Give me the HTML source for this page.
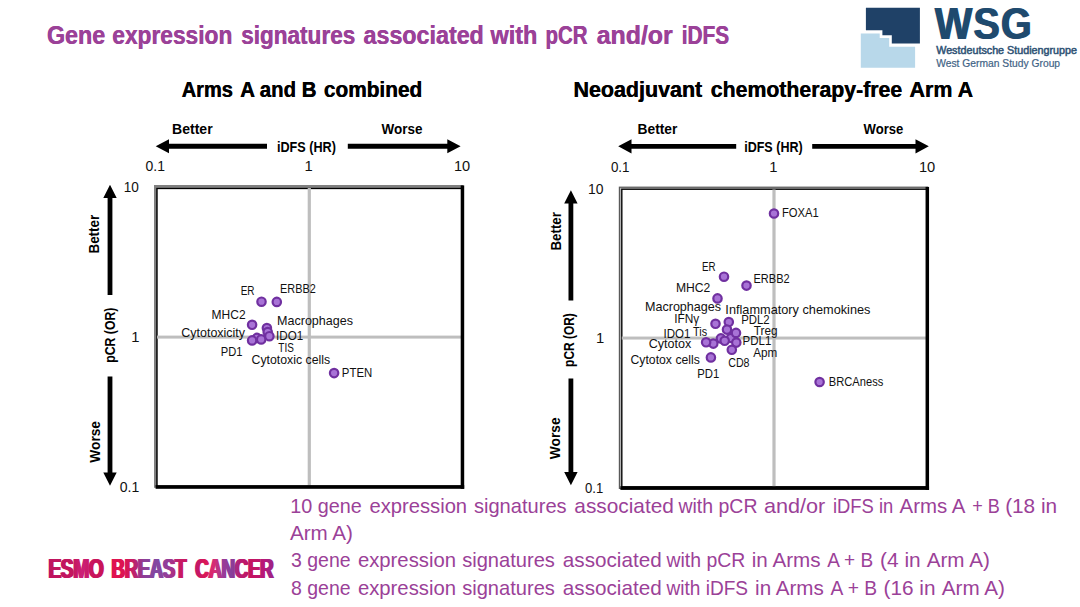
<!DOCTYPE html>
<html><head><meta charset="utf-8"><title>Gene expression signatures</title>
<style>
html,body{margin:0;padding:0;background:#fff;}
body{width:1080px;height:607px;overflow:hidden;}
svg{display:block;font-family:"Liberation Sans",sans-serif;}
</style></head><body>
<svg width="1080" height="607" viewBox="0 0 1080 607">
<rect width="1080" height="607" fill="#fff"/>
<text id="b1" x="46.72" y="44.2" font-size="26.4" font-weight="700" fill="#9B4198" textLength="58.28" lengthAdjust="spacingAndGlyphs">Gene</text><use href="#b1" x="0.50"/>
<text id="b2" x="112.04" y="44.2" font-size="26.4" font-weight="700" fill="#9B4198" textLength="120.03" lengthAdjust="spacingAndGlyphs">expression</text><use href="#b2" x="0.50"/>
<text id="b3" x="241.00" y="44.2" font-size="26.4" font-weight="700" fill="#9B4198" textLength="113.98" lengthAdjust="spacingAndGlyphs">signatures</text><use href="#b3" x="0.50"/>
<text id="b4" x="363.30" y="44.2" font-size="26.4" font-weight="700" fill="#9B4198" textLength="120.29" lengthAdjust="spacingAndGlyphs">associated</text><use href="#b4" x="0.50"/>
<text id="b5" x="490.29" y="44.2" font-size="26.4" font-weight="700" fill="#9B4198" textLength="46.91" lengthAdjust="spacingAndGlyphs">with</text><use href="#b5" x="0.50"/>
<text id="b6" x="545.33" y="44.2" font-size="26.4" font-weight="700" fill="#9B4198" textLength="42.02" lengthAdjust="spacingAndGlyphs">pCR</text><use href="#b6" x="0.50"/>
<text id="b7" x="596.40" y="44.2" font-size="26.4" font-weight="700" fill="#9B4198" textLength="76.16" lengthAdjust="spacingAndGlyphs">and/or</text><use href="#b7" x="0.50"/>
<text id="b8" x="681.41" y="44.2" font-size="26.4" font-weight="700" fill="#9B4198" textLength="47.47" lengthAdjust="spacingAndGlyphs">iDFS</text><use href="#b8" x="0.50"/>
<path d="M865.9,7.7 H919.9 V43.5 H891.8 V35.2 H882.4 V30.3 H865.9 Z" fill="#1F4167"/>
<path d="M860.8,33.4 H879.7 V38.1 H889.2 V46.7 H915.1 V67.7 H860.8 Z" fill="#B8D8EA"/>
<text id="b9" x="934.30" y="39.0" font-size="44.8" font-weight="700" fill="#1F4A6E" textLength="97.89" lengthAdjust="spacingAndGlyphs" letter-spacing="1.2">WSG</text><use href="#b9" x="1.30"/>
<text x="936.20" y="54.3" font-size="10.6" font-weight="400" fill="#2F5375" textLength="140.79" lengthAdjust="spacingAndGlyphs" stroke="#2F5375" stroke-width="0.5">Westdeutsche Studiengruppe</text>
<text x="936.20" y="67.4" font-size="10.6" font-weight="400" fill="#3F6385" textLength="123.89" lengthAdjust="spacingAndGlyphs" stroke="#3F6385" stroke-width="0.2">West German Study Group</text>
<text id="b10" x="181.50" y="96.6" font-size="22.8" font-weight="700" fill="#000" textLength="51.20" lengthAdjust="spacingAndGlyphs">Arms</text><use href="#b10" x="0.40"/>
<text id="b11" x="240.00" y="96.6" font-size="22.8" font-weight="700" fill="#000" textLength="76.21" lengthAdjust="spacingAndGlyphs">A and B</text><use href="#b11" x="0.40"/>
<text id="b12" x="323.70" y="96.6" font-size="22.8" font-weight="700" fill="#000" textLength="98.35" lengthAdjust="spacingAndGlyphs">combined</text><use href="#b12" x="0.40"/>
<text id="b13" x="573.26" y="96.6" font-size="22.8" font-weight="700" fill="#000" textLength="128.76" lengthAdjust="spacingAndGlyphs">Neoadjuvant</text><use href="#b13" x="0.40"/>
<text id="b14" x="710.60" y="96.6" font-size="22.8" font-weight="700" fill="#000" textLength="191.43" lengthAdjust="spacingAndGlyphs">chemotherapy-free</text><use href="#b14" x="0.40"/>
<text id="b15" x="909.30" y="96.6" font-size="22.8" font-weight="700" fill="#000" textLength="63.63" lengthAdjust="spacingAndGlyphs">Arm A</text><use href="#b15" x="0.40"/>
<rect x="154.00" y="185.00" width="309.20" height="302.80" fill="#808080"/>
<rect x="156.25" y="187.85" width="306.20" height="298.80" fill="#000"/>
<rect x="157.70" y="189.15" width="304.20" height="296.80" fill="#fff"/>
<rect x="307.70" y="188.0" width="3.2" height="297.8" fill="#BEBEBE"/>
<rect x="157.0" y="335.60" width="304.2" height="3.0" fill="#BEBEBE"/>
<rect x="460.70" y="185.40" width="3.5" height="303.40" fill="#000"/>
<rect x="155.60" y="485.10" width="308.60" height="3.7" fill="#000"/>
<rect x="618.80" y="186.60" width="309.25" height="302.40" fill="#5a5a5a"/>
<rect x="620.00" y="187.80" width="307.25" height="300.40" fill="#b4b4b4"/>
<rect x="621.15" y="188.60" width="306.25" height="298.40" fill="#000"/>
<rect x="622.50" y="189.90" width="304.25" height="296.40" fill="#fff"/>
<rect x="772.40" y="189.5" width="3.2" height="297.4" fill="#BEBEBE"/>
<rect x="621.8" y="336.55" width="304.2" height="3.0" fill="#BEBEBE"/>
<rect x="925.55" y="186.90" width="3.5" height="303.00" fill="#000"/>
<rect x="620.40" y="486.20" width="308.65" height="3.7" fill="#000"/>
<text x="172.06" y="134.0" font-size="15" font-weight="700" fill="#000" textLength="40.58" lengthAdjust="spacingAndGlyphs">Better</text>
<text x="381.60" y="134.0" font-size="15" font-weight="700" fill="#000" textLength="40.91" lengthAdjust="spacingAndGlyphs">Worse</text>
<text x="276.96" y="152.0" font-size="15" font-weight="700" fill="#000" textLength="58.94" lengthAdjust="spacingAndGlyphs">iDFS (HR)</text>
<path d="M155.7,146.2 L169.0,139.2 L169.0,143.85 L267.0,143.85 L267.0,148.65 L169.0,148.65 L169.0,153.3 Z" fill="#000"/>
<path d="M460.6,146.2 L447.3,139.2 L447.3,143.85 L347.8,143.85 L347.8,148.65 L447.3,148.65 L447.3,153.3 Z" fill="#000"/>
<text x="145.60" y="170.9" font-size="14.8" font-weight="400" fill="#111" textLength="19.42" lengthAdjust="spacingAndGlyphs">0.1</text>
<text x="304.40" y="170.9" font-size="14.8" font-weight="400" fill="#111">1</text>
<text x="454.02" y="170.9" font-size="14.8" font-weight="400" fill="#111" textLength="16.21" lengthAdjust="spacingAndGlyphs">10</text>
<text x="123.68" y="192.2" font-size="14.8" font-weight="400" fill="#111" textLength="15.13" lengthAdjust="spacingAndGlyphs">10</text>
<text x="131.20" y="342.2" font-size="14.8" font-weight="400" fill="#111">1</text>
<text x="119.80" y="492.0" font-size="14.8" font-weight="400" fill="#111" textLength="19.52" lengthAdjust="spacingAndGlyphs">0.1</text>
<path d="M110.0,184.7 L103.3,197.9 L107.60,197.9 L107.60,295.1 L112.40,295.1 L112.40,197.9 L116.7,197.9 Z" fill="#000"/>
<path d="M110.0,485.7 L103.3,472.5 L107.60,472.5 L107.60,376.6 L112.40,376.6 L112.40,472.5 L116.7,472.5 Z" fill="#000"/>
<text transform="translate(99.4,253.60) rotate(-90)" font-size="15" font-weight="700" fill="#000" textLength="38.95" lengthAdjust="spacingAndGlyphs">Better</text>
<text transform="translate(114.8,362.80) rotate(-90)" font-size="15" font-weight="700" fill="#000" textLength="55.20" lengthAdjust="spacingAndGlyphs">pCR (OR)</text>
<text transform="translate(99.5,462.70) rotate(-90)" font-size="15" font-weight="700" fill="#000" textLength="41.71" lengthAdjust="spacingAndGlyphs">Worse</text>
<text x="637.58" y="134.0" font-size="15" font-weight="700" fill="#000" textLength="39.77" lengthAdjust="spacingAndGlyphs">Better</text>
<text x="863.50" y="134.0" font-size="15" font-weight="700" fill="#000" textLength="39.80" lengthAdjust="spacingAndGlyphs">Worse</text>
<text x="744.16" y="152.0" font-size="15" font-weight="700" fill="#000" textLength="58.53" lengthAdjust="spacingAndGlyphs">iDFS (HR)</text>
<path d="M618.2,146.3 L631.5,139.2 L631.5,143.95 L736.2,143.95 L736.2,148.75 L631.5,148.75 L631.5,153.4 Z" fill="#000"/>
<path d="M928.8,146.3 L915.5,139.2 L915.5,143.95 L812.2,143.95 L812.2,148.75 L915.5,148.75 L915.5,153.4 Z" fill="#000"/>
<text x="610.90" y="171.9" font-size="14.8" font-weight="400" fill="#111" textLength="18.61" lengthAdjust="spacingAndGlyphs">0.1</text>
<text x="769.20" y="171.9" font-size="14.8" font-weight="400" fill="#111">1</text>
<text x="918.91" y="171.9" font-size="14.8" font-weight="400" fill="#111" textLength="16.32" lengthAdjust="spacingAndGlyphs">10</text>
<text x="587.96" y="194.0" font-size="14.8" font-weight="400" fill="#111" textLength="15.45" lengthAdjust="spacingAndGlyphs">10</text>
<text x="596.05" y="342.9" font-size="14.8" font-weight="400" fill="#111">1</text>
<text x="585.00" y="493.1" font-size="14.8" font-weight="400" fill="#111" textLength="18.20" lengthAdjust="spacingAndGlyphs">0.1</text>
<path d="M570.9,190.2 L564.2,203.4 L568.50,203.4 L568.50,300.4 L573.30,300.4 L573.30,203.4 L577.6,203.4 Z" fill="#000"/>
<path d="M570.9,485.3 L564.2,472.1 L568.50,472.1 L568.50,378.5 L573.30,378.5 L573.30,472.1 L577.6,472.1 Z" fill="#000"/>
<text transform="translate(560.6,250.48) rotate(-90)" font-size="15" font-weight="700" fill="#000" textLength="38.34" lengthAdjust="spacingAndGlyphs">Better</text>
<text transform="translate(573.8,366.90) rotate(-90)" font-size="15" font-weight="700" fill="#000" textLength="53.70" lengthAdjust="spacingAndGlyphs">pCR (OR)</text>
<text transform="translate(560.4,459.20) rotate(-90)" font-size="15" font-weight="700" fill="#000" textLength="41.81" lengthAdjust="spacingAndGlyphs">Worse</text>
<text x="240.68" y="295.0" font-size="12.2" font-weight="400" fill="#111" textLength="13.86" lengthAdjust="spacingAndGlyphs">ER</text>
<text x="280.11" y="293.0" font-size="12.2" font-weight="400" fill="#111" textLength="35.59" lengthAdjust="spacingAndGlyphs">ERBB2</text>
<text x="211.62" y="319.0" font-size="12.2" font-weight="400" fill="#111" textLength="33.97" lengthAdjust="spacingAndGlyphs">MHC2</text>
<text x="277.07" y="325.0" font-size="12.2" font-weight="400" fill="#111" textLength="75.92" lengthAdjust="spacingAndGlyphs">Macrophages</text>
<text x="181.30" y="337.0" font-size="12.2" font-weight="400" fill="#111" textLength="63.77" lengthAdjust="spacingAndGlyphs">Cytotoxicity</text>
<text x="276.05" y="340.0" font-size="12.2" font-weight="400" fill="#111" textLength="27.14" lengthAdjust="spacingAndGlyphs">IDO1</text>
<text x="278.30" y="352.0" font-size="12.2" font-weight="400" fill="#111" textLength="15.51" lengthAdjust="spacingAndGlyphs">TIS</text>
<text x="220.78" y="356.0" font-size="12.2" font-weight="400" fill="#111" textLength="21.71" lengthAdjust="spacingAndGlyphs">PD1</text>
<text x="251.50" y="364.0" font-size="12.2" font-weight="400" fill="#111" textLength="78.69" lengthAdjust="spacingAndGlyphs">Cytotoxic cells</text>
<text x="341.87" y="377.0" font-size="12.2" font-weight="400" fill="#111" textLength="30.38" lengthAdjust="spacingAndGlyphs">PTEN</text>
<circle cx="261.5" cy="301.7" r="4.2" fill="#A873D6" stroke="#7030A0" stroke-width="2.2"/>
<circle cx="276.8" cy="301.9" r="4.2" fill="#A873D6" stroke="#7030A0" stroke-width="2.2"/>
<circle cx="252.1" cy="324.8" r="4.2" fill="#A873D6" stroke="#7030A0" stroke-width="2.2"/>
<circle cx="266.9" cy="328.0" r="4.2" fill="#A873D6" stroke="#7030A0" stroke-width="2.2"/>
<circle cx="267.7" cy="332.0" r="4.2" fill="#A873D6" stroke="#7030A0" stroke-width="2.2"/>
<circle cx="257.0" cy="337.9" r="4.2" fill="#A873D6" stroke="#7030A0" stroke-width="2.2"/>
<circle cx="261.2" cy="339.4" r="4.2" fill="#A873D6" stroke="#7030A0" stroke-width="2.2"/>
<circle cx="252.1" cy="340.4" r="4.2" fill="#A873D6" stroke="#7030A0" stroke-width="2.2"/>
<circle cx="269.4" cy="336.2" r="4.2" fill="#A873D6" stroke="#7030A0" stroke-width="2.2"/>
<circle cx="334.1" cy="373.1" r="4.2" fill="#A873D6" stroke="#7030A0" stroke-width="2.2"/>
<text x="781.98" y="217.0" font-size="12.2" font-weight="400" fill="#111" textLength="36.82" lengthAdjust="spacingAndGlyphs">FOXA1</text>
<text x="702.10" y="271.0" font-size="12.2" font-weight="400" fill="#111" textLength="13.54" lengthAdjust="spacingAndGlyphs">ER</text>
<text x="753.50" y="283.0" font-size="12.2" font-weight="400" fill="#111" textLength="36.10" lengthAdjust="spacingAndGlyphs">ERBB2</text>
<text x="675.90" y="292.0" font-size="12.2" font-weight="400" fill="#111" textLength="34.37" lengthAdjust="spacingAndGlyphs">MHC2</text>
<text x="644.97" y="311.0" font-size="12.2" font-weight="400" fill="#111" textLength="76.13" lengthAdjust="spacingAndGlyphs">Macrophages</text>
<text x="725.35" y="314.0" font-size="12.2" font-weight="400" fill="#111" textLength="145.14" lengthAdjust="spacingAndGlyphs">Inflammatory chemokines</text>
<text x="674.22" y="323.0" font-size="12.2" font-weight="400" fill="#111" textLength="25.09" lengthAdjust="spacingAndGlyphs">IFNγ</text>
<text x="741.17" y="324.0" font-size="12.2" font-weight="400" fill="#111" textLength="28.43" lengthAdjust="spacingAndGlyphs">PDL2</text>
<text x="663.55" y="338.0" font-size="12.2" font-weight="400" fill="#111" textLength="26.94" lengthAdjust="spacingAndGlyphs">IDO1</text>
<text x="693.10" y="336.0" font-size="12.2" font-weight="400" fill="#111" textLength="13.98" lengthAdjust="spacingAndGlyphs">Tis</text>
<text x="753.80" y="335.0" font-size="12.2" font-weight="400" fill="#111" textLength="23.75" lengthAdjust="spacingAndGlyphs">Treg</text>
<text x="742.56" y="345.0" font-size="12.2" font-weight="400" fill="#111" textLength="28.73" lengthAdjust="spacingAndGlyphs">PDL1</text>
<text x="648.70" y="348.0" font-size="12.2" font-weight="400" fill="#111" textLength="42.60" lengthAdjust="spacingAndGlyphs">Cytotox</text>
<text x="753.20" y="357.0" font-size="12.2" font-weight="400" fill="#111" textLength="24.05" lengthAdjust="spacingAndGlyphs">Apm</text>
<text x="630.50" y="364.0" font-size="12.2" font-weight="400" fill="#111" textLength="69.39" lengthAdjust="spacingAndGlyphs">Cytotox cells</text>
<text x="728.20" y="367.0" font-size="12.2" font-weight="400" fill="#111" textLength="21.31" lengthAdjust="spacingAndGlyphs">CD8</text>
<text x="697.17" y="378.0" font-size="12.2" font-weight="400" fill="#111" textLength="22.02" lengthAdjust="spacingAndGlyphs">PD1</text>
<text x="828.79" y="386.0" font-size="12.2" font-weight="400" fill="#111" textLength="54.50" lengthAdjust="spacingAndGlyphs">BRCAness</text>
<circle cx="774.0" cy="213.5" r="4.2" fill="#A873D6" stroke="#7030A0" stroke-width="2.2"/>
<circle cx="724.0" cy="276.7" r="4.2" fill="#A873D6" stroke="#7030A0" stroke-width="2.2"/>
<circle cx="746.5" cy="285.6" r="4.2" fill="#A873D6" stroke="#7030A0" stroke-width="2.2"/>
<circle cx="717.5" cy="298.4" r="4.2" fill="#A873D6" stroke="#7030A0" stroke-width="2.2"/>
<circle cx="715.5" cy="323.8" r="4.2" fill="#A873D6" stroke="#7030A0" stroke-width="2.2"/>
<circle cx="728.8" cy="322.1" r="4.2" fill="#A873D6" stroke="#7030A0" stroke-width="2.2"/>
<circle cx="727.0" cy="329.6" r="4.2" fill="#A873D6" stroke="#7030A0" stroke-width="2.2"/>
<circle cx="731.1" cy="338.0" r="4.2" fill="#A873D6" stroke="#7030A0" stroke-width="2.2"/>
<circle cx="720.9" cy="338.4" r="4.2" fill="#A873D6" stroke="#7030A0" stroke-width="2.2"/>
<circle cx="736.0" cy="332.9" r="4.2" fill="#A873D6" stroke="#7030A0" stroke-width="2.2"/>
<circle cx="736.3" cy="342.6" r="4.2" fill="#A873D6" stroke="#7030A0" stroke-width="2.2"/>
<circle cx="724.7" cy="340.8" r="4.2" fill="#A873D6" stroke="#7030A0" stroke-width="2.2"/>
<circle cx="713.3" cy="343.6" r="4.2" fill="#A873D6" stroke="#7030A0" stroke-width="2.2"/>
<circle cx="706.1" cy="342.3" r="4.2" fill="#A873D6" stroke="#7030A0" stroke-width="2.2"/>
<circle cx="731.8" cy="349.8" r="4.2" fill="#A873D6" stroke="#7030A0" stroke-width="2.2"/>
<circle cx="710.9" cy="357.4" r="4.2" fill="#A873D6" stroke="#7030A0" stroke-width="2.2"/>
<circle cx="819.6" cy="382.0" r="4.2" fill="#A873D6" stroke="#7030A0" stroke-width="2.2"/>
<text x="290.20" y="513.0" font-size="19.8" font-weight="400" fill="#9B4198" textLength="71.50" lengthAdjust="spacingAndGlyphs">10 gene</text>
<text x="369.40" y="513.0" font-size="19.8" font-weight="400" fill="#9B4198" textLength="97.72" lengthAdjust="spacingAndGlyphs">expression</text>
<text x="473.90" y="513.0" font-size="19.8" font-weight="400" fill="#9B4198" textLength="92.79" lengthAdjust="spacingAndGlyphs">signatures</text>
<text x="574.30" y="513.0" font-size="19.8" font-weight="400" fill="#9B4198" textLength="99.55" lengthAdjust="spacingAndGlyphs">associated</text>
<text x="678.48" y="513.0" font-size="19.8" font-weight="400" fill="#9B4198" textLength="79.00" lengthAdjust="spacingAndGlyphs">with pCR</text>
<text x="763.90" y="513.0" font-size="19.8" font-weight="400" fill="#9B4198" textLength="61.35" lengthAdjust="spacingAndGlyphs">and/or</text>
<text x="832.97" y="513.0" font-size="19.8" font-weight="400" fill="#9B4198" textLength="60.26" lengthAdjust="spacingAndGlyphs">iDFS in</text>
<text x="899.60" y="513.0" font-size="19.8" font-weight="400" fill="#9B4198" textLength="65.78" lengthAdjust="spacingAndGlyphs">Arms A</text>
<text x="972.20" y="513.0" font-size="19.8" font-weight="400" fill="#9B4198" textLength="27.58" lengthAdjust="spacingAndGlyphs">+ B</text>
<text x="1005.15" y="513.0" font-size="19.8" font-weight="400" fill="#9B4198" textLength="52.00" lengthAdjust="spacingAndGlyphs">(18 in</text>
<text x="289.90" y="540.0" font-size="19.8" font-weight="400" fill="#9B4198" textLength="63.10" lengthAdjust="spacingAndGlyphs">Arm A)</text>
<text x="291.00" y="567.4" font-size="19.8" font-weight="400" fill="#9B4198" textLength="59.60" lengthAdjust="spacingAndGlyphs">3 gene</text>
<text x="357.90" y="567.4" font-size="19.8" font-weight="400" fill="#9B4198" textLength="98.13" lengthAdjust="spacingAndGlyphs">expression</text>
<text x="462.20" y="567.4" font-size="19.8" font-weight="400" fill="#9B4198" textLength="92.69" lengthAdjust="spacingAndGlyphs">signatures</text>
<text x="562.80" y="567.4" font-size="19.8" font-weight="400" fill="#9B4198" textLength="98.85" lengthAdjust="spacingAndGlyphs">associated</text>
<text x="666.48" y="567.4" font-size="19.8" font-weight="400" fill="#9B4198" textLength="78.80" lengthAdjust="spacingAndGlyphs">with pCR</text>
<text x="751.78" y="567.4" font-size="19.8" font-weight="400" fill="#9B4198" textLength="68.71" lengthAdjust="spacingAndGlyphs">in Arms</text>
<text x="827.20" y="567.4" font-size="19.8" font-weight="400" fill="#9B4198" textLength="45.98" lengthAdjust="spacingAndGlyphs">A + B</text>
<text x="880.04" y="567.4" font-size="19.8" font-weight="400" fill="#9B4198" textLength="40.61" lengthAdjust="spacingAndGlyphs">(4 in</text>
<text x="926.70" y="567.4" font-size="19.8" font-weight="400" fill="#9B4198" textLength="63.10" lengthAdjust="spacingAndGlyphs">Arm A)</text>
<text x="291.00" y="594.8" font-size="19.8" font-weight="400" fill="#9B4198" textLength="59.60" lengthAdjust="spacingAndGlyphs">8 gene</text>
<text x="357.90" y="594.8" font-size="19.8" font-weight="400" fill="#9B4198" textLength="98.13" lengthAdjust="spacingAndGlyphs">expression</text>
<text x="462.20" y="594.8" font-size="19.8" font-weight="400" fill="#9B4198" textLength="92.69" lengthAdjust="spacingAndGlyphs">signatures</text>
<text x="562.80" y="594.8" font-size="19.8" font-weight="400" fill="#9B4198" textLength="98.85" lengthAdjust="spacingAndGlyphs">associated</text>
<text x="666.46" y="594.8" font-size="19.8" font-weight="400" fill="#9B4198" textLength="81.62" lengthAdjust="spacingAndGlyphs">with iDFS</text>
<text x="755.08" y="594.8" font-size="19.8" font-weight="400" fill="#9B4198" textLength="68.71" lengthAdjust="spacingAndGlyphs">in Arms</text>
<text x="830.60" y="594.8" font-size="19.8" font-weight="400" fill="#9B4198" textLength="46.48" lengthAdjust="spacingAndGlyphs">A + B</text>
<text x="883.55" y="594.8" font-size="19.8" font-weight="400" fill="#9B4198" textLength="51.90" lengthAdjust="spacingAndGlyphs">(16 in</text>
<text x="941.80" y="594.8" font-size="19.8" font-weight="400" fill="#9B4198" textLength="63.20" lengthAdjust="spacingAndGlyphs">Arm A)</text>
<defs><linearGradient id="eg" gradientUnits="userSpaceOnUse" x1="48" y1="0" x2="274" y2="0"><stop offset="0.000" stop-color="#BE145F"/><stop offset="0.106" stop-color="#C4165E"/><stop offset="0.142" stop-color="#CC2078"/><stop offset="0.195" stop-color="#C8145A"/><stop offset="0.248" stop-color="#C8145A"/><stop offset="0.279" stop-color="#E0124F"/><stop offset="0.336" stop-color="#DC1452"/><stop offset="0.372" stop-color="#C2206A"/><stop offset="0.416" stop-color="#8C3F98"/><stop offset="0.478" stop-color="#8248A2"/><stop offset="0.531" stop-color="#9A3A95"/><stop offset="0.575" stop-color="#C71A63"/><stop offset="0.619" stop-color="#C71A63"/><stop offset="0.650" stop-color="#C01868"/><stop offset="0.686" stop-color="#DA1656"/><stop offset="0.726" stop-color="#D82C74"/><stop offset="0.770" stop-color="#9A3C98"/><stop offset="0.805" stop-color="#84409C"/><stop offset="0.841" stop-color="#B81C70"/><stop offset="0.894" stop-color="#C4145F"/><stop offset="0.947" stop-color="#B81878"/><stop offset="1.000" stop-color="#93288E"/></linearGradient></defs>
<text id="b16" x="47.49" y="578.0" font-size="27" font-weight="700" fill="url(#eg)" textLength="54.80" lengthAdjust="spacingAndGlyphs" letter-spacing="-0.6">ESMO</text><use href="#b16" x="1.00"/><use href="#b16" x="2.00"/>
<text id="b17" x="110.61" y="578.0" font-size="27" font-weight="700" fill="url(#eg)" textLength="74.28" lengthAdjust="spacingAndGlyphs" letter-spacing="-0.6">BREAST</text><use href="#b17" x="1.00"/><use href="#b17" x="2.00"/>
<text id="b18" x="194.30" y="578.0" font-size="27" font-weight="700" fill="url(#eg)" textLength="77.88" lengthAdjust="spacingAndGlyphs" letter-spacing="-0.6">CANCER</text><use href="#b18" x="1.00"/><use href="#b18" x="2.00"/>
</svg>
</body></html>
